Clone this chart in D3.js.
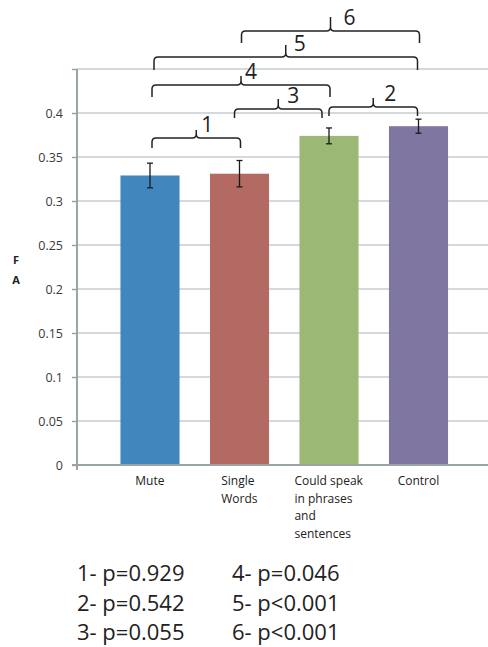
<!DOCTYPE html>
<html>
<head>
<meta charset="utf-8">
<script src="https://cdn.jsdelivr.net/npm/d3@7"></script>
<style>
  html, body { margin: 0; padding: 0; background: #fff; }
  svg { display: block; }
</style>
</head>
<body>
<svg id="chart" width="488" height="647"></svg>
<script>
// Mean FA per language group, with error bar half-widths
const categories = [["Mute"], ["Single", "Words"], ["Could speak", "in phrases", "and", "sentences"], ["Control"]];
const faValues = [0.329, 0.331, 0.374, 0.385];
const faErrors = [0.014, 0.015, 0.009, 0.008];
const barColors = ["#4187bd", "#b26a62", "#9bb874", "#7f76a1"];
const yTicks = [0, 0.05, 0.1, 0.15, 0.2, 0.25, 0.3, 0.35, 0.4, 0.45];
const yTickLabels = ["0", "0.05", "0.1", "0.15", "0.2", "0.25", "0.3", "0.35", "0.4", ""];

// Pairwise comparisons (group indices) and their p-values
const compareFrom = [0, 2, 1, 0, 0, 1];
const compareTo   = [1, 3, 2, 2, 3, 3];
const pValues = ["p=0.929", "p=0.542", "p=0.055", "p=0.046", "p<0.001", "p<0.001"];

// Bracket layout: horizontal line y, end drops, tip rise, end insets, label offset
const bracketLayout = [
  { y: 138, drop: 10, tip: 8,  d1: 2,  d2: 1,  lx: 5 },
  { y: 107, drop: 9,  tip: 9,  d1: 0,  d2: -1, lx: 11 },
  { y: 109, drop: 9,  tip: 10, d1: -5, d2: -7, lx: 9 },
  { y: 85,  drop: 12, tip: 9,  d1: 2,  d2: 1,  lx: 4 },
  { y: 57,  drop: 13, tip: 12, d1: 4,  d2: -1, lx: 8 },
  { y: 31,  drop: 12, tip: 14, d1: 2,  d2: 1,  lx: 13 }
];

const svg = d3.select("#chart");
const axisX = 77, plotRight = 488, y0 = 465, yTop = 69;

const y = d3.scaleLinear().domain([0, 0.45]).range([y0, yTop]);
const x = d3.scaleBand()
  .domain(d3.range(categories.length))
  .range([105.25, 463.25])
  .paddingInner(0.34)
  .paddingOuter(0.17);

// Gridlines
svg.append("g").selectAll("line")
  .data(yTicks.filter(d => d > 0))
  .join("line")
  .attr("x1", axisX).attr("x2", plotRight)
  .attr("y1", d => y(d)).attr("y2", d => y(d))
  .attr("stroke", "#c6ced1").attr("stroke-width", 1.6);

// Y axis with ticks on the left
const yAxis = d3.axisLeft(y)
  .tickValues(yTicks)
  .tickSize(5)
  .tickPadding(9)
  .tickFormat((d, i) => yTickLabels[i]);
const gy = svg.append("g").attr("transform", `translate(${axisX},0)`).call(yAxis);
gy.select(".domain").attr("stroke", "#9aa3a5").attr("stroke-width", 2)
  .attr("d", `M0,${yTop}V${y0 + 5}`);
gy.selectAll(".tick line").attr("stroke", "#9aa3a5").attr("stroke-width", 1.5);
gy.selectAll(".tick text")
  .attr("font-family", "'Open Sans', sans-serif")
  .attr("font-size", 12.5)
  .attr("fill", "#3a3a3a");

// Bars
svg.append("g").selectAll("rect")
  .data(faValues)
  .join("rect")
  .attr("x", (d, i) => x(i))
  .attr("width", x.bandwidth())
  .attr("y", d => y(d))
  .attr("height", d => y0 - y(d))
  .attr("fill", (d, i) => barColors[i]);

// X axis baseline
svg.append("line")
  .attr("x1", axisX - 5).attr("x2", plotRight)
  .attr("y1", y0).attr("y2", y0)
  .attr("stroke", "#9aa3a5").attr("stroke-width", 2);

// Error bars
const eb = svg.append("g").attr("stroke", "#1a1a1a").attr("stroke-width", 1.3);
faValues.forEach((v, i) => {
  const cx = x(i) + x.bandwidth() / 2;
  const hi = y(v + faErrors[i]), lo = y(v - faErrors[i]);
  eb.append("line").attr("x1", cx).attr("x2", cx).attr("y1", hi).attr("y2", lo);
  eb.append("line").attr("x1", cx - 3).attr("x2", cx + 3).attr("y1", hi).attr("y2", hi);
  eb.append("line").attr("x1", cx - 3).attr("x2", cx + 3).attr("y1", lo).attr("y2", lo);
});

// Category labels, left-aligned blocks centred under each bar
const labelFont = "'Open Sans', sans-serif";
categories.forEach((lines, i) => {
  const cx = x(i) + x.bandwidth() / 2;
  const t = svg.append("text")
    .attr("font-family", labelFont)
    .attr("font-size", 12)
    .attr("fill", "#222");
  lines.forEach((ln, j) => {
    t.append("tspan").attr("x", 0).attr("y", 485 + j * 17.5).text(ln);
  });
  const w = t.node().getBBox().width;
  t.selectAll("tspan").attr("x", cx - w / 2);
});

// Y axis title, stacked letters
svg.append("text").attr("x", 16).attr("y", 264)
  .attr("text-anchor", "middle").attr("font-family", labelFont)
  .attr("font-weight", "bold").attr("font-size", 11).attr("fill", "#222").text("F");
svg.append("text").attr("x", 16).attr("y", 284)
  .attr("text-anchor", "middle").attr("font-family", labelFont)
  .attr("font-weight", "bold").attr("font-size", 11).attr("fill", "#222").text("A");

// Curly comparison brackets
function bracePath(x1, x2, yy, drop, tip) {
  const r = 4, xm = (x1 + x2) / 2, t = 4;
  return `M${x1},${yy + drop}V${yy + r}Q${x1},${yy} ${x1 + r},${yy}` +
         `H${xm - t}Q${xm},${yy} ${xm},${yy - t}V${yy - tip}` +
         `M${xm},${yy - t}Q${xm},${yy} ${xm + t},${yy}` +
         `H${x2 - r}Q${x2},${yy} ${x2},${yy + r}V${yy + drop}`;
}
const gb = svg.append("g");
compareFrom.forEach((a, i) => {
  const L = bracketLayout[i];
  const x1 = x(a) + x.bandwidth() / 2 + L.d1;
  const x2 = x(compareTo[i]) + x.bandwidth() / 2 + L.d2;
  gb.append("path")
    .attr("d", bracePath(x1, x2, L.y, L.drop, L.tip))
    .attr("fill", "none").attr("stroke", "#222").attr("stroke-width", 1.5);
  gb.append("text")
    .attr("x", (x1 + x2) / 2 + L.lx)
    .attr("y", L.y - 6)
    .attr("font-family", labelFont)
    .attr("font-size", 21)
    .attr("fill", "#222")
    .text(i + 1);
});

// p-value key below the chart
const key = svg.append("g").attr("font-family", labelFont).attr("font-size", 22).attr("fill", "#222");
pValues.forEach((p, i) => {
  const col = Math.floor(i / 3), row = i % 3;
  key.append("text")
    .attr("x", 77 + col * 155)
    .attr("y", 581 + row * 29.5)
    .text(`${i + 1}- ${p}`);
});
</script>
</body>
</html>
